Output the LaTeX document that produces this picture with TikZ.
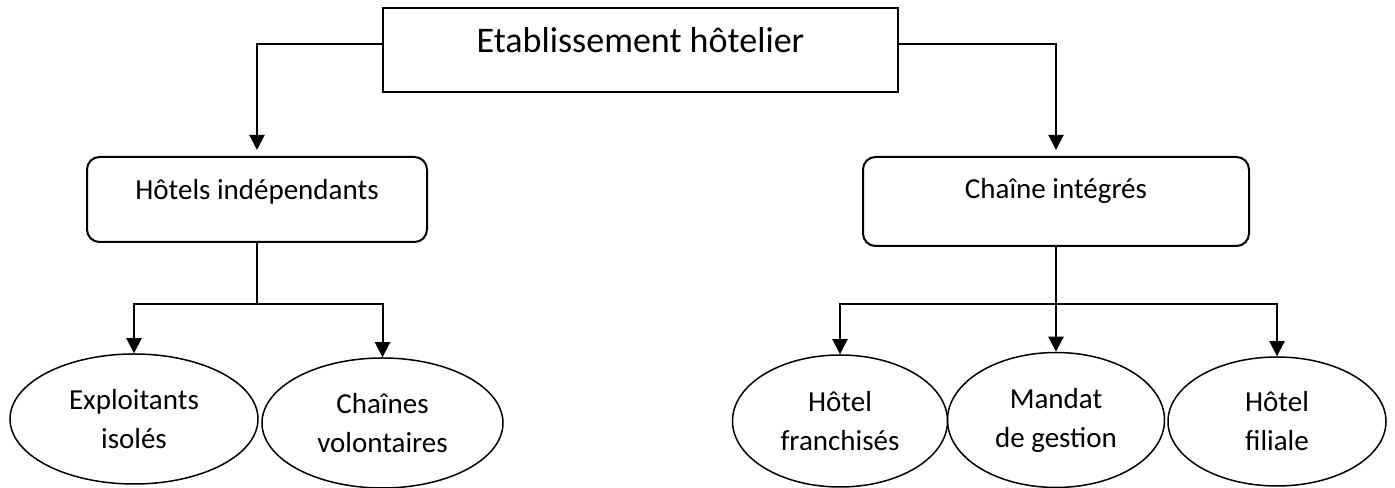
\documentclass[tikz,border=0pt]{standalone}
\usepackage{fontspec}
\setmainfont{Carlito}
\usetikzlibrary{arrows.meta,shapes.geometric}

\tikzset{
    haupt/.style={draw, line width=0.04cm, minimum width=10.3cm, inner sep=0pt,
        text height=0.9cm, text depth=0.78cm, font=\fontsize{20.5}{24}\selectfont},
    typbox/.style={draw, line width=0.04cm, rounded corners=0.25cm, inner sep=0pt,
        font=\fontsize{16.5}{22.2}\selectfont},
    art/.style={draw, ellipse, line width=0.03cm, inner sep=0pt, align=center,
        minimum height=2.6cm, font=\fontsize{16.5}{22.2}\selectfont},
    pfeil/.style={line width=0.04cm, -{Triangle[width=0.3cm,length=0.3cm]}},
    linie/.style={line width=0.04cm}
}

\begin{document}
\begin{tikzpicture}
    \useasboundingbox (0,0) rectangle (27.9,9.76);

    % Oberste Ebene
    \node[haupt] (etab) at (12.81,8.76) {Etablissement hôtelier};

    % Zweite Ebene
    \node[typbox, minimum width=6.8cm, text height=0.86cm, text depth=0.84cm] (indep) at (5.14,5.77) {Hôtels indépendants};
    \node[typbox, minimum width=7.72cm, text height=0.84cm, text depth=0.94cm] (integ) at (21.12,5.73) {Chaîne intégrés};

    \draw[pfeil, shorten >=0.12cm] ([yshift=0.12cm]etab.west) -| (indep.north);
    \draw[pfeil, shorten >=0.12cm] ([yshift=0.12cm]etab.east) -| (integ.north);

    % Dritte Ebene links
    \node[art, minimum width=4.96cm] (isoles) at (2.68,1.38) {Exploitants\\isolés};
    \node[art, minimum width=4.82cm] (volont) at (7.65,1.30) {Chaînes\\volontaires};
    \coordinate (lsplit) at (5.14,3.68);
    \draw[linie] (indep.south) -- (lsplit);
    \draw[pfeil] (lsplit) -| (isoles.north);
    \draw[pfeil] (lsplit) -| (volont.north);

    % Dritte Ebene rechts
    \node[art, minimum width=4.3cm, minimum height=2.64cm] (franch) at (16.8,1.34) {Hôtel\\franchisés};
    \node[art, minimum width=4.34cm, minimum height=2.7cm] (mandat) at (21.12,1.36) {Mandat\\de gestion};
    \node[art, minimum width=4.36cm, minimum height=2.58cm] (filiale) at (25.54,1.33) {Hôtel\\filiale};
    \coordinate (rsplit) at (21.12,3.68);
    \draw[pfeil] (integ.south) -- (mandat.north);
    \draw[pfeil] (rsplit) -| (franch.north);
    \draw[pfeil] (rsplit) -| (filiale.north);
\end{tikzpicture}
\end{document}
